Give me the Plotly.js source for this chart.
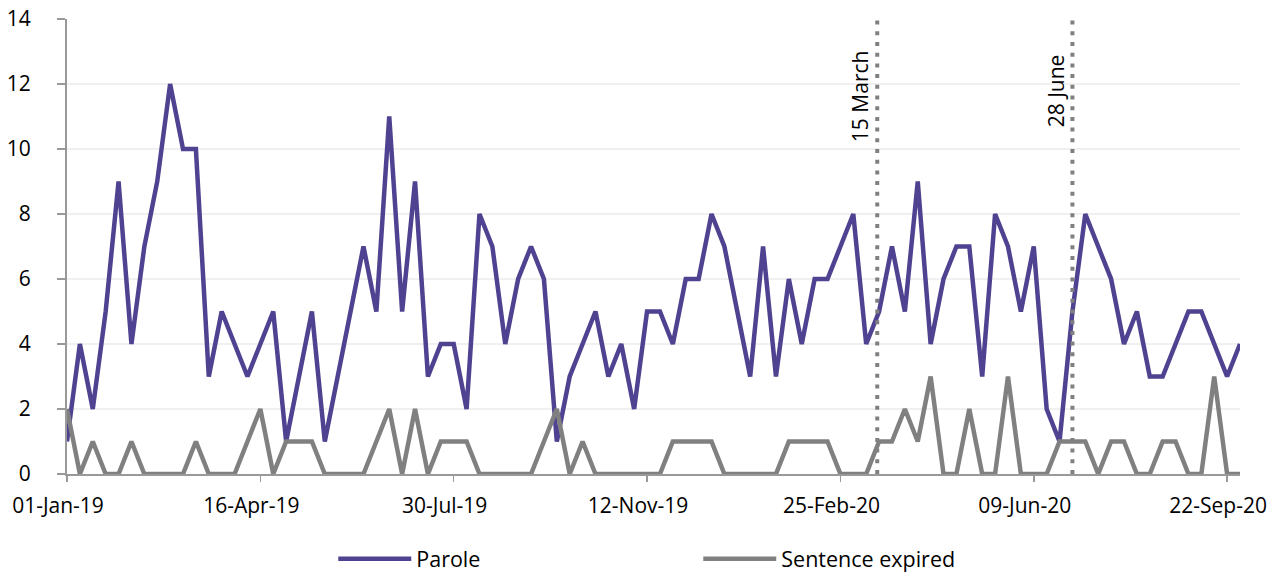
<!DOCTYPE html>
<html>
<head>
<meta charset="utf-8">
<script src="https://cdn.plot.ly/plotly-3.0.1.min.js"></script>
<style>html,body{margin:0;padding:0;background:#fff;}#chart{width:1272px;height:573px;}</style>
</head>
<body>
<div id="chart"></div>
<script>
var weeks = [
'2019-01-01','2019-01-08','2019-01-15','2019-01-22','2019-01-29','2019-02-05','2019-02-12','2019-02-19','2019-02-26','2019-03-05',
'2019-03-12','2019-03-19','2019-03-26','2019-04-02','2019-04-09','2019-04-16','2019-04-23','2019-04-30','2019-05-07','2019-05-14',
'2019-05-21','2019-05-28','2019-06-04','2019-06-11','2019-06-18','2019-06-25','2019-07-02','2019-07-09','2019-07-16','2019-07-23',
'2019-07-30','2019-08-06','2019-08-13','2019-08-20','2019-08-27','2019-09-03','2019-09-10','2019-09-17','2019-09-24','2019-10-01',
'2019-10-08','2019-10-15','2019-10-22','2019-10-29','2019-11-05','2019-11-12','2019-11-19','2019-11-26','2019-12-03','2019-12-10',
'2019-12-17','2019-12-24','2019-12-31','2020-01-07','2020-01-14','2020-01-21','2020-01-28','2020-02-04','2020-02-11','2020-02-18',
'2020-02-25','2020-03-03','2020-03-10','2020-03-17','2020-03-24','2020-03-31','2020-04-07','2020-04-14','2020-04-21','2020-04-28',
'2020-05-05','2020-05-12','2020-05-19','2020-05-26','2020-06-02','2020-06-09','2020-06-16','2020-06-23','2020-06-30','2020-07-07',
'2020-07-14','2020-07-21','2020-07-28','2020-08-04','2020-08-11','2020-08-18','2020-08-25','2020-09-01','2020-09-08','2020-09-15',
'2020-09-22','2020-09-29'];

var parole = [1,4,2,5,9,4,7,9,12,10,
10,3,5,4,3,4,5,1,3,5,
1,3,5,7,5,11,5,9,3,4,
4,2,8,7,4,6,7,6,1,3,
4,5,3,4,2,5,5,4,6,6,
8,7,5,3,7,3,6,4,6,6,
7,8,4,5,7,5,9,4,6,7,
7,3,8,7,5,7,2,1,5,8,
7,6,4,5,3,3,4,5,5,4,
3,4];

var sentenceExpired = [2,0,1,0,0,1,0,0,0,0,
1,0,0,0,1,2,0,1,1,1,
0,0,0,0,1,2,0,2,0,1,
1,1,0,0,0,0,0,1,2,0,
1,0,0,0,0,0,0,1,1,1,
1,0,0,0,0,0,1,1,1,1,
0,0,0,1,1,2,1,3,0,0,
2,0,0,3,0,0,0,1,1,1,
0,1,1,0,0,1,1,0,0,3,
0,0];

var seriesNames = ['Parole', 'Sentence expired'];
var eventDates = ['2020-03-16', '2020-06-30'];
var eventLabels = ['15 March', '28 June'];
var eventLabelY = [0.831, 0.842];

var FONT = 'Open Sans, Noto Sans, sans-serif';
var FS = 21;
var traces = [
  {x: weeks, y: parole, name: seriesNames[0], type: 'scatter', mode: 'lines',
   line: {color: '#4f4391', width: 4.5}},
  {x: weeks, y: sentenceExpired, name: seriesNames[1], type: 'scatter', mode: 'lines',
   line: {color: '#808080', width: 4.5}}
];

var shapes = eventDates.map(function(d){
  return {type: 'line', xref: 'x', yref: 'paper', x0: d, x1: d, y0: 0, y1: 1,
          line: {color: '#808080', width: 4, dash: '4px,6.7px'}};
});
var annotations = eventDates.map(function(d, i){
  return {x: d, xref: 'x', y: eventLabelY[i], yref: 'paper', text: eventLabels[i],
          showarrow: false, textangle: -90, xanchor: 'center', yanchor: 'middle',
          xshift: -17, font: {family: FONT, size: FS, color: '#000'}};
});

var layout = {
  width: 1272, height: 573,
  margin: {l: 67, r: 32, t: 19, b: 99, pad: 0},
  paper_bgcolor: '#fff', plot_bgcolor: '#fff',
  font: {family: FONT, size: FS, color: '#000'},
  showlegend: true,
  legend: {orientation: 'h', xref: 'container', yref: 'container',
           x: 0.262, xanchor: 'left', y: 0.025, yanchor: 'middle',
           entrywidth: 277, entrywidthmode: 'pixels', itemwidth: 73,
           font: {family: FONT, size: 21.5, color: '#000'}},
  xaxis: {type: 'date', range: ['2019-01-01', '2020-09-29'],
          tick0: '2019-01-01', dtick: 15 * 7 * 86400000, tickformat: '%d-%b-%y',
          ticks: 'outside', ticklen: 6, tickwidth: 1.5, tickcolor: '#999',
          showline: true, linecolor: '#999', linewidth: 2,
          showgrid: false, zeroline: false, ticklabelshift: -9,
          ticklabelstandoff: 6,
          tickfont: {family: FONT, size: FS, color: '#000'}},
  yaxis: {range: [0, 14], dtick: 2, tick0: 0,
          ticks: 'outside', ticklen: 8, tickwidth: 2, tickcolor: '#999',
          showline: true, linecolor: '#999', linewidth: 2,
          showgrid: true, gridcolor: '#f0f0f0', gridwidth: 2, zeroline: false,
          ticklabelstandoff: 22,
          tickfont: {family: FONT, size: FS, color: '#000'}},
  shapes: shapes,
  annotations: annotations
};

Plotly.newPlot('chart', traces, layout, {displayModeBar: false, staticPlot: true});
</script>
</body>
</html>
